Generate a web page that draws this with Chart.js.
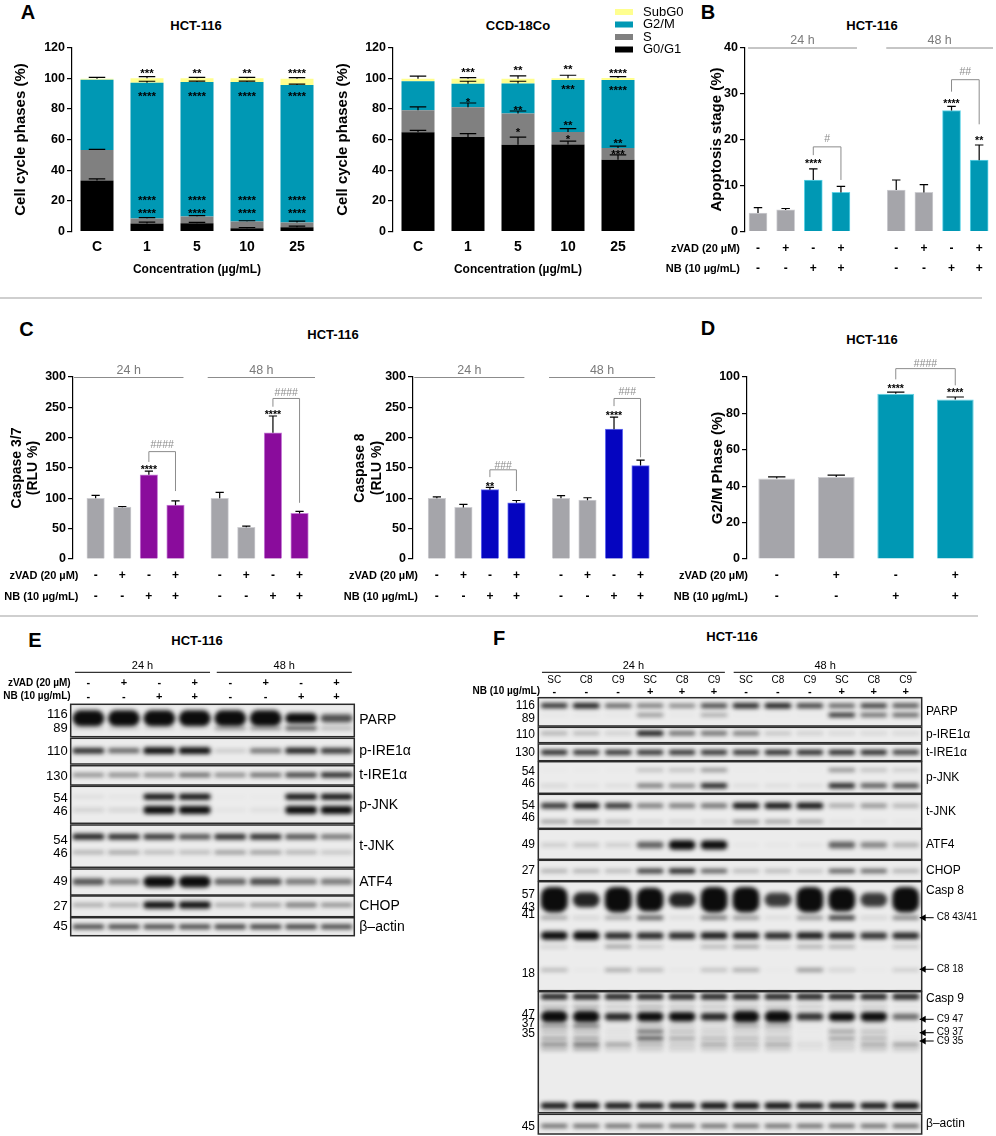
<!DOCTYPE html>
<html>
<head>
<meta charset="utf-8">
<title>HCT-116 cell cycle, apoptosis, caspase activity and western blots</title>
<script src="https://cdn.jsdelivr.net/npm/chart.js@4.4.1/dist/chart.umd.min.js"></script>
<style>
html,body{margin:0;padding:0;background:#fff;}
#fig{position:relative;width:996px;height:1136px;overflow:hidden;background:#fff;}
</style>
</head>
<body>
<div id="fig"></div>
<script>
// ---------- A: cell cycle phases (stacked %) ----------
let concLabels = ["C", "1", "5", "10", "25"];
let phaseNames = ["G0/G1", "S", "G2/M", "SubG0"];

let hctG0G1 = [33.2, 5.2, 5.3, 2.2, 2.8];
let hctS = [19.9, 3.3, 4.5, 4.4, 3.1];
let hctG2M = [45.8, 88.5, 87.7, 90.9, 89.6];
let hctSubG0 = [0.8, 2.9, 2.4, 2.4, 4.2];
let hctG0G1Err = [1.1, 0.9, 0.7, 0.4, 0.7];
let hctSErr = [0.4, 0.5, 0.5, 0.4, 0.9];
let hctG2MErr = [0, 1.0, 0.6, 0.6, 0.6];
let hctSubG0Err = [0.8, 1.1, 0.6, 0.6, 0.6];

let ccdG0G1 = [64.7, 61.6, 56.6, 56.8, 46.8];
let ccdS = [14.3, 19.4, 20.3, 8.1, 7.6];
let ccdG2M = [19.0, 15.3, 19.6, 33.9, 44.4];
let ccdSubG0 = [1.7, 3.4, 3.2, 1.1, 1.3];
let ccdG0G1Err = [1.3, 2.2, 5.0, 2.2, 3.2];
let ccdSErr = [2.3, 2.8, 1.7, 2.2, 1.3];
let ccdG2MErr = [0, 1.7, 1.5, 0, 0];
let ccdSubG0Err = [1.6, 0.7, 1.8, 2.0, 0.9];

// [bar, value, text]
let hctStars = [[1,105,"***"],[2,105,"**"],[3,105,"**"],[4,105,"****"],
  [1,90,"****"],[2,90,"****"],[3,90,"****"],[4,90,"****"],
  [1,22.3,"****"],[2,22.3,"****"],[3,22.3,"****"],[4,22.3,"****"],
  [1,14,"****"],[2,14,"****"],[3,14,"****"],[4,14,"****"]];
let ccdStars = [[1,106,"***"],[1,86.5,"*"],[2,107,"**"],[2,81,"**"],[2,66.5,"*"],
  [3,107.5,"**"],[3,95,"***"],[3,71.5,"**"],[3,62,"*"],
  [4,105,"****"],[4,94,"****"],[4,59.5,"**"],[4,52.5,"***"]];

// ---------- B, C: treatments ----------
let zvadSigns = ["-","+","-","+","-","+","-","+"];
let nbSigns = ["-","-","+","+","-","-","+","+"];
let hourGroups = [["24 h",0,3],["48 h",4,7]];

let apoptosis = [4.0, 4.7, 11.2, 8.5, 9.0, 8.5, 26.3, 15.5];
let apoptosisErr = [1.2, 0.3, 2.4, 1.3, 2.2, 1.7, 0.9, 3.3];
let apoStars = [[2,15.3,"****"],[6,28.4,"****"],[7,20.4,"**"]];
// [left bar, right bar, top, left end, right end, label, label value]
let apoBrackets = [[2,3,18.4,16.6,11.2,"#",20.3],[6,7,33.0,30.4,23.3,"##",34.8]];

let casp37 = [100, 85.5, 138.8, 88.7, 100, 52.3, 208, 75.1];
let casp37Err = [5, 1, 6, 7, 9.8, 2, 27.7, 3.3];
let casp37Stars = [[2,151,"****"],[6,242,"****"]];
let casp37Brackets = [[2,3,177,160,112,"####",189],[6,7,264.6,251,92.6,"####",275]];

let casp8 = [100, 85, 114.3, 92.6, 100, 97, 214, 154];
let casp8Err = [2.5, 5, 3.7, 3.8, 4.5, 4, 20, 9];
let casp8Stars = [[2,124,"**"],[6,241,"****"]];
let casp8Brackets = [[2,3,147,135,112,"###",155],[6,7,264.6,252,167.7,"###",276.6]];

// ---------- D: G2/M phase ----------
let g2mZvad = ["-","+","-","+"];
let g2mNb = ["-","-","+","+"];
let g2mPhase = [44.2, 45.1, 90.8, 87.7];
let g2mErr = [0.9, 1.0, 0.9, 1.3];
let g2mStars = [[2,95,"****"],[3,92.7,"****"]];
let g2mBrackets = [[2,3,104.6,98.7,95.4,"####",107.3]];

// ---------- E: blot (band rows: [position, size, strength per lane]) ----------
let eZvad = ["-","+","-","+","-","+","-","+"];
let eNb = ["-","-","+","+","-","-","+","+"];
let eStrips = [["PARP",0,32.4],["p-IRE1α",34,59.7],["t-IRE1α",61.4,80.7],["p-JNK",82,119],
  ["t-JNK",120.7,163],["ATF4",164.7,190.7],["CHOP",191.7,212.4],["β–actin",213.4,231.4]];
let eMarkers = [["116",10],["89",24],["110",46.7],["130",71.7],["54",94],["46",107.4],
  ["54",135.7],["46",149],["49",177.4],["27",202.4],["45",222.4]];
let eBands = [
  [14, 10, [2,2,2,2,2,2,1.1,0.7]],
  [24, 4, [0.15,0.2,0.15,0.1,0.45,0.5,0.8,0.35]],
  [46.4, 6, [0.9,0.65,1.2,1.2,0.2,0.6,0.95,0.85]],
  [70.7, 5, [0.5,0.55,0.55,0.65,0.55,0.65,0.85,0.95]],
  [92.4, 6, [0.08,0.05,1,1,0.02,0.02,1,1]],
  [105.7, 7, [0.15,0.12,1.2,1.2,0.05,0.08,1.2,1.2]],
  [132.4, 6, [0.95,0.9,0.85,0.75,0.9,0.9,0.75,0.6]],
  [148, 5, [0.35,0.4,0.3,0.3,0.45,0.45,0.35,0.25]],
  [177.4, 8, [0.7,0.5,1.6,1.7,0.65,0.75,0.55,0.55]],
  [200.7, 6, [0.35,0.35,1.3,1.3,0.35,0.4,0.55,0.45]],
  [222.4, 5, [0.8,0.8,0.8,0.8,0.85,0.85,0.85,0.8]]
];

// ---------- F: blot ----------
let fLanes = ["SC","C8","C9","SC","C8","C9","SC","C8","C9","SC","C8","C9"];
let fNb = ["-","-","-","+","+","+","-","-","-","+","+","+"];
let fGroups = [["24 h",0,5],["48 h",6,11]];
let fStrips = [["PARP",0,28.3],["p-IRE1α",29.6,45],["t-IRE1α",46.3,63],["p-JNK",64,95.6],
  ["t-JNK",96.6,130.6],["ATF4",131.6,161.6],["CHOP",162.6,183],["Casp 8",184,293,8.5],
  ["Casp 9",294,415,6.5],["β–actin",416.6,436.3]];
let fMarkers = [["116",8.3],["89",20.6],["110",37.3],["130",54.6],["54",74],["46",85.6],
  ["54",108],["46",119.6],["49",147.3],["27",173.3],["57",196.6],["43",209.6],["41",217.3],
  ["18",276.3],["47",317.3],["37",325.6],["35",335.6],["45",429]];
let fArrows = [["C8 43/41",220],["C8 18",271.6],["C9 47",321.6],["C9 37",335],["C9 35",343.3]];
let fBands = [
  [8, 5, [0.9,1.0,0.7,0.6,0.55,0.8,0.95,1.0,0.85,0.7,0.85,0.75]],
  [17.3, 4, [0.05,0.05,0.05,0.5,0.05,0.45,0.02,0.02,0.02,0.95,0.7,0.75]],
  [35.6, 5, [0.35,0.3,0.2,1.0,0.65,0.65,0.6,0.25,0.2,0.15,0.15,0.15]],
  [54.6, 5, [0.95,0.9,0.9,0.9,0.9,0.9,0.9,0.95,0.95,0.95,0.95,0.85]],
  [72.3, 4, [0.03,0.03,0.03,0.3,0.3,0.5,0.02,0.02,0.02,0.55,0.3,0.25]],
  [88, 5, [0.15,0.08,0.1,0.6,0.55,0.95,0.1,0.1,0.1,0.95,0.75,0.8]],
  [108, 6, [0.85,1.0,0.85,0.55,0.55,0.6,1.0,1.0,1.0,0.35,0.45,0.3]],
  [124, 4, [0.45,0.55,0.35,0.2,0.2,0.2,0.55,0.45,0.45,0.1,0.1,0.05]],
  [147.3, 8, [0.15,0.2,0.15,0.65,1.3,1.2,0.03,0.03,0.05,0.65,0.5,0.3]],
  [173.3, 5, [0.35,0.35,0.3,0.85,0.95,0.7,0.3,0.3,0.25,0.7,0.65,0.35]],
  [202, 16, [2,0.9,2,1.8,0.9,2,2,0.8,2,1.8,0.8,2]],
  [220, 5, [0.4,0.15,0.4,0.7,0.1,0.6,0.45,0.1,0.45,0.85,0.15,0.55]],
  [238, 7, [1.3,1.4,0.9,0.9,0.9,0.95,0.95,0.9,0.95,0.9,0.85,0.9]],
  [249, 4, [0.2,0.1,0.45,0.25,0.05,0.35,0.45,0.15,0.4,0.35,0.05,0.25]],
  [272.3, 4, [0.35,0.05,0.45,0.35,0.05,0.3,0.45,0.03,0.5,0.2,0.03,0.25]],
  [299, 6, [0.95,0.95,0.95,0.95,0.95,0.95,0.95,0.95,0.95,0.95,0.95,0.95]],
  [309, 3, [0.4,0.5,0.3,0.45,0.35,0.35,0.35,0.35,0.3,0.2,0.3,0.1]],
  [319, 8, [1.8,1.8,0.9,1.3,1.3,0.9,1.8,1.8,0.85,1.2,1.3,0.6]],
  [328.3, 3, [0.6,0.8,0.1,0.35,0.3,0.2,0.55,0.5,0.05,0.15,0.15,0.03]],
  [334, 3, [0.4,0.4,0.15,0.85,0.4,0.3,0.3,0.3,0.05,0.6,0.4,0.05]],
  [340.6, 3, [0.55,0.6,0.15,0.95,0.55,0.45,0.45,0.4,0.05,0.6,0.5,0.1]],
  [346.6, 3, [0.7,0.85,0.6,0.5,0.35,0.55,0.5,0.55,0.2,0.35,0.55,0.6]],
  [351.6, 3, [0.4,0.5,0.25,0.3,0.25,0.3,0.3,0.3,0.1,0.25,0.35,0.3]],
  [408, 6, [1,1.2,1,1,1,1.1,1.1,1.1,1,1,1,1.1]],
  [428.3, 4, [0.7,0.7,0.7,0.7,0.7,0.7,0.7,0.7,0.7,0.7,0.7,0.7]]
];

// ---------- styles ----------
let FONT = "'Liberation Sans', Arial, sans-serif";
let phaseColors = ["#000000", "#808080", "#0098b4", "#ffff8f"];
let grayBar = "#a5a5aa", grayEdge = "#cdcdd1";
let tealBar = "#0098b4", tealEdge = "#5fd3e6";
let purpleBar = "#8a0c9c", purpleEdge = "#c77fd6";
let blueBar = "#0505c0", blueEdge = "#6a72f2";

function hasFont(name) {
  let c = document.createElement("canvas").getContext("2d");
  c.font = "40px monospace";
  let a = c.measureText("zVAD (20 µM) NB").width;
  c.font = "40px '" + name + "', monospace";
  return c.measureText("zVAD (20 µM) NB").width !== a;
}
let rowFont = hasFont("Liberation Sans Narrow") ? "bold 13px 'Liberation Sans Narrow'" : "bold 11px " + FONT;

Chart.defaults.font.family = FONT;
Chart.defaults.color = "#000";
Chart.defaults.animation = false;
Chart.defaults.responsive = false;
Chart.defaults.events = [];
Chart.defaults.plugins.legend.display = false;
Chart.defaults.plugins.tooltip.enabled = false;

let fig = document.getElementById("fig");

function makeCanvas(left, top, w, h) {
  let c = document.createElement("canvas");
  c.width = w; c.height = h;
  c.style.cssText = "position:absolute;left:" + left + "px;top:" + top + "px;width:" + w + "px;height:" + h + "px";
  fig.appendChild(c);
  return c;
}

function addText(text, x, y, css) {
  let d = document.createElement("div");
  d.textContent = text;
  d.style.cssText = "position:absolute;left:" + x + "px;top:" + y + "px;transform:translate(-50%,-50%);white-space:nowrap;line-height:1;font-family:" + FONT + ";" + css;
  fig.appendChild(d);
}

function addRule(y, w) {
  let d = document.createElement("div");
  d.style.cssText = "position:absolute;left:0;top:" + y + "px;width:" + w + "px;height:2px;background:#cfcfcf";
  fig.appendChild(d);
}

function mark(ctx, text, x, y, color, size) {
  let hash = text[0] === "#";
  ctx.fillStyle = color;
  ctx.font = (hash ? "" : "bold ") + size + "px " + FONT;
  ctx.textAlign = "center";
  ctx.textBaseline = "alphabetic";
  ctx.fillText(text, x, y + (hash ? 0.36 : 0.58) * size);
}

// error bars, stars, brackets, time headers, treatment rows, legend
let extras = {
  id: "extras",
  afterDatasetsDraw(chart, args, o) {
    let ctx = chart.ctx, a = chart.chartArea, y = chart.scales.y;
    let unit = y.getPixelForValue(0) - y.getPixelForValue(1);
    let pts = chart.getDatasetMeta(0).data;
    ctx.save();
    ctx.strokeStyle = "#000";
    ctx.lineWidth = 1.2;
    chart.data.datasets.forEach((ds, di) => {
      chart.getDatasetMeta(di).data.forEach((el, i) => {
        let e = ds.errors ? ds.errors[i] : 0;
        if (!e) return;
        let top = el.y - e * unit, c = el.width * o.cap / 2;
        ctx.beginPath();
        ctx.moveTo(el.x, el.y); ctx.lineTo(el.x, top);
        ctx.moveTo(el.x - c, top); ctx.lineTo(el.x + c, top);
        ctx.stroke();
      });
    });
    (o.stars || []).forEach(s => mark(ctx, s[2], pts[s[0]].x, y.getPixelForValue(s[1]), "#000", o.starSize || 11));
    ctx.strokeStyle = "#8c8c8c";
    ctx.lineWidth = 1;
    (o.brackets || []).forEach(b => {
      let x1 = pts[b[0]].x, x2 = pts[b[1]].x, yt = y.getPixelForValue(b[2]);
      ctx.beginPath();
      ctx.moveTo(x1, y.getPixelForValue(b[3])); ctx.lineTo(x1, yt);
      ctx.lineTo(x2, yt); ctx.lineTo(x2, y.getPixelForValue(b[4]));
      ctx.stroke();
      mark(ctx, b[5], (x1 + x2) / 2, y.getPixelForValue(b[6]), "#8c8c8c", 10.5);
    });
    (o.periods || []).forEach((p, k) => {
      let sp = pts[1].x - pts[0].x, ext = o.periodExt[k];
      let x1 = pts[p[1]].x - ext[0] * sp, x2 = pts[p[2]].x + ext[1] * sp;
      ctx.strokeStyle = "#8c8c8c";
      ctx.beginPath(); ctx.moveTo(x1, a.top + 0.5); ctx.lineTo(x2, a.top + 0.5); ctx.stroke();
      ctx.fillStyle = "#7a7a7a";
      ctx.font = "12.5px " + FONT;
      ctx.textAlign = "center"; ctx.textBaseline = "middle";
      ctx.fillText(p[0], (x1 + x2) / 2, a.top - 6.8);
    });
    (o.rows || []).forEach((r, k) => {
      let yy = a.bottom + o.rowDy[k];
      ctx.fillStyle = "#000";
      ctx.textBaseline = "middle";
      ctx.font = rowFont; ctx.textAlign = "right";
      ctx.fillText(r[0], a.left + o.rowDx, yy);
      ctx.font = "bold 12px " + FONT; ctx.textAlign = "center";
      r[1].forEach((s, i) => ctx.fillText(s, pts[i].x, yy));
    });
    if (o.legend) {
      chart.data.datasets.slice().reverse().forEach((ds, k) => {
        let yy = o.legend.y + k * o.legend.dy;
        ctx.fillStyle = ds.backgroundColor;
        ctx.fillRect(o.legend.x, yy - 3, 18, 6);
        ctx.fillStyle = "#000";
        ctx.font = "13px " + FONT;
        ctx.textAlign = "left"; ctx.textBaseline = "middle";
        ctx.fillText(ds.label, o.legend.x + 28, yy);
      });
    }
    ctx.restore();
  }
};

function yAxis(max, step, title, size, titleX, width) {
  return {
    min: 0, max: max,
    ticks: {stepSize: step, color: "#000", font: {size: 12.5, weight: "bold"}, padding: 2},
    grid: {display: true, drawOnChartArea: false, drawTicks: true, tickLength: 5, color: "#000", lineWidth: 1.2},
    border: {display: true, color: "#000", width: 1.2},
    title: {display: true, text: title, color: "#000", font: {size: size, weight: "bold", lineHeight: 1.15},
      padding: {top: titleX - size * 1.15 / 2, bottom: 0}},
    afterFit: s => { s.width = width; }
  };
}

function cycleChart(left, w, plot, phases, errs, stars, titleX, legend) {
  let h = 290;
  let cv = makeCanvas(left, 0, w, h);
  let padB = h - plot[3];
  let ds = phaseNames.map((n, k) => ({label: n, data: phases[k], errors: errs[k], backgroundColor: phaseColors[k],
    borderWidth: 0, barPercentage: 0.66, categoryPercentage: 1}));
  let y = yAxis(120, 20, "Cell cycle phases (%)", 15, titleX - left, plot[0] - left);
  y.stacked = true;
  return new Chart(cv, {
    type: "bar",
    data: {labels: concLabels, datasets: ds},
    options: {
      layout: {padding: {left: 0, top: plot[1], right: left + w - plot[2], bottom: 0}},
      scales: {
        x: {stacked: true, offset: true, grid: {display: false, drawTicks: false}, border: {display: false},
          ticks: {color: "#000", font: {size: 14, weight: "bold"}, padding: 7, maxRotation: 0},
          title: {display: true, text: "Concentration (µg/mL)", color: "#000", font: {size: 12, weight: "bold"}, padding: {top: 0, bottom: 12.8}},
          afterFit: s => { s.height = padB; }},
        y: y
      },
      plugins: {extras: {cap: 0.5, stars: stars, starSize: 11.5, legend: legend}}
    },
    plugins: [extras]
  });
}

function barPanel(p) {
  let cv = makeCanvas(p.left, p.top, p.w, p.h);
  let linear = !!p.xpos;
  let ds = {
    data: linear ? p.values.map((v, i) => ({x: p.xpos[i], y: v})) : p.values,
    errors: p.errors,
    backgroundColor: p.colors, borderColor: p.edges, borderWidth: 1,
    barPercentage: p.barPct || 0.9, categoryPercentage: 1
  };
  if (p.barW) ds.barThickness = p.barW;
  return new Chart(cv, {
    type: "bar",
    data: {labels: p.values.map((v, i) => "group " + (i + 1)), datasets: [ds]},
    options: {
      layout: {padding: {left: 0, top: p.plot[1] - p.top, right: p.left + p.w - p.plot[2], bottom: p.top + p.h - p.plot[3]}},
      scales: {
        x: linear ? {type: "linear", display: false, min: p.xmin, max: p.xmax, offset: false} : {display: false, offset: true},
        y: yAxis(p.yMax, p.yStep, p.yTitle, p.yTitleSize, p.yTitleX - p.left, p.plot[0] - p.left)
      },
      plugins: {extras: {cap: 0.47, stars: p.stars, starSize: 10.5, brackets: p.brackets, periods: p.periods,
        periodExt: p.periodExt, rows: p.rows, rowDy: [17, 37.5], rowDx: p.rowDx}}
    },
    plugins: [extras]
  });
}

// ---- western blot: strips, bands (blurred floating bars), labels ----
let blotDeco = {
  id: "blotDeco",
  beforeDatasetsDraw(chart, args, o) {
    let ctx = chart.ctx, a = chart.chartArea, y = chart.scales.y;
    ctx.save();
    ctx.fillStyle = "#ececec";
    ctx.beginPath();
    o.strips.forEach(s => {
      let t = y.getPixelForValue(s[1]), b = y.getPixelForValue(s[2]);
      ctx.rect(a.left, t, a.right - a.left, b - t);
    });
    ctx.fill();
    ctx.clip();
    ctx.filter = "blur(1.9px)";
  },
  afterDatasetsDraw(chart, args, o) {
    let ctx = chart.ctx, a = chart.chartArea, x = chart.scales.x, y = chart.scales.y;
    ctx.restore();
    ctx.save();
    let lw = x.getPixelForValue(1) - x.getPixelForValue(0);
    ctx.strokeStyle = "#2b2b2b";
    ctx.lineWidth = 1.5;
    ctx.fillStyle = "#000";
    ctx.textBaseline = "middle";
    o.strips.forEach(s => {
      let t = y.getPixelForValue(s[1]), b = y.getPixelForValue(s[2]);
      ctx.strokeRect(a.left, t, a.right - a.left, b - t);
      ctx.font = o.nameFont + "px " + FONT;
      ctx.textAlign = "left";
      let ly = s[3] !== undefined ? y.getPixelForValue(s[1] + s[3]) : (t + b) / 2;
      ctx.fillText(s[0], a.right + o.nameDx, ly);
    });
    ctx.font = o.mwFont + "px " + FONT;
    ctx.textAlign = "right";
    o.markers.forEach(m => ctx.fillText(m[0], a.left - o.mwDx, y.getPixelForValue(m[1])));
    ctx.lineWidth = 1;
    ctx.strokeStyle = "#000";
    o.periods.forEach(p => {
      let x1 = x.getPixelForValue(p[1]) - o.periodExt[0] * lw, x2 = x.getPixelForValue(p[2]) + o.periodExt[1] * lw;
      ctx.beginPath(); ctx.moveTo(x1, a.top + o.lineDy); ctx.lineTo(x2, a.top + o.lineDy); ctx.stroke();
      ctx.font = "11px " + FONT; ctx.textAlign = "center";
      ctx.fillText(p[0], (x1 + x2) / 2, a.top + o.periodDy);
    });
    if (o.laneLabels) {
      ctx.font = "10px " + FONT; ctx.textAlign = "center";
      o.laneLabels.forEach((l, i) => ctx.fillText(l, x.getPixelForValue(i), a.top + o.laneDy));
    }
    o.rows.forEach((r, k) => {
      let yy = a.top + o.rowDy[k];
      ctx.font = "bold 10px " + FONT; ctx.textAlign = "right";
      ctx.fillText(r[0], a.left + o.rowDx, yy);
      ctx.font = "bold 11px " + FONT; ctx.textAlign = "center";
      r[1].forEach((s, i) => ctx.fillText(s, x.getPixelForValue(i), yy));
    });
    (o.arrows || []).forEach(r => {
      let yy = y.getPixelForValue(r[1]), tip = a.right - 2;
      ctx.beginPath(); ctx.moveTo(tip, yy); ctx.lineTo(tip + 14, yy); ctx.stroke();
      ctx.beginPath(); ctx.moveTo(tip, yy); ctx.lineTo(tip + 6, yy - 3.5); ctx.lineTo(tip + 6, yy + 3.5); ctx.closePath(); ctx.fill();
      ctx.font = "10px " + FONT; ctx.textAlign = "left";
      ctx.fillText(r[0], tip + 17, yy);
    });
    ctx.restore();
  }
};

function bandSize(base, s) { return base * (0.4 + 0.6 * Math.min(s, 2)); }

function blotChart(left, top, w, h, box, lanes, strips, bands, bandPct, deco) {
  let cv = makeCanvas(left, top, w, h);
  let H = strips[strips.length - 1][2];
  let ds = bands.map(b => ({
    data: b[2].map(s => { let t = bandSize(b[1], s); return [b[0] - t / 2, b[0] + t / 2]; }),
    backgroundColor: b[2].map(s => "rgba(12,12,12," + Math.min(1, s).toFixed(2) + ")"),
    borderWidth: 0, borderSkipped: false,
    borderRadius: c => Math.min(9, bandSize(b[1], b[2][c.dataIndex]) / 2),
    barPercentage: bandPct, categoryPercentage: 1, grouped: false
  }));
  deco.strips = strips;
  return new Chart(cv, {
    type: "bar",
    data: {labels: lanes.map((l, i) => "lane " + (i + 1)), datasets: ds},
    options: {
      layout: {padding: {left: box[0] - left, top: box[1] - top, right: left + w - box[2], bottom: top + h - box[3]}},
      scales: {
        x: {display: false, offset: true},
        y: {display: false, min: 0, max: H, reverse: true}
      },
      plugins: {blotDeco: deco}
    },
    plugins: [blotDeco]
  });
}

// ---------- layout ----------
addText("A", 28, 12, "font-weight:bold;font-size:20px");
addText("HCT-116", 196, 25, "font-weight:bold;font-size:13px");
addText("CCD-18Co", 518, 25, "font-weight:bold;font-size:13px");
addText("B", 708, 12, "font-weight:bold;font-size:20px");
addText("HCT-116", 872, 25, "font-weight:bold;font-size:13px");
addRule(297, 982);
addText("C", 26.5, 329, "font-weight:bold;font-size:20px");
addText("HCT-116", 333, 334, "font-weight:bold;font-size:13px");
addText("D", 708, 328, "font-weight:bold;font-size:20px");
addText("HCT-116", 872, 339, "font-weight:bold;font-size:13px");
addRule(615, 978);
addText("E", 35, 640, "font-weight:bold;font-size:20px");
addText("HCT-116", 197, 640, "font-weight:bold;font-size:13px");
addText("F", 499, 637.5, "font-weight:bold;font-size:20px");
addText("HCT-116", 732, 636, "font-weight:bold;font-size:13px");

cycleChart(0, 335, [72, 47.5, 322, 231.5],
  [hctG0G1, hctS, hctG2M, hctSubG0], [hctG0G1Err, hctSErr, hctG2MErr, hctSubG0Err], hctStars, 21, null);
cycleChart(325, 375, [393, 47.5, 643, 231.5],
  [ccdG0G1, ccdS, ccdG2M, ccdSubG0], [ccdG0G1Err, ccdSErr, ccdG2MErr, ccdSubG0Err], ccdStars, 343,
  {x: 615 - 325, y: 12, dy: 12.5});

barPanel({left: 655, top: 0, w: 341, h: 290, plot: [745, 47.5, 993, 231.5],
  values: apoptosis, errors: apoptosisErr,
  colors: nbSigns.map(s => s === "+" ? tealBar : grayBar), edges: nbSigns.map(s => s === "+" ? tealEdge : grayEdge),
  xpos: apoptosis.map((v, i) => i + (i >= 4 ? 1 : 0)), xmin: -0.47, xmax: 8.5, barW: 18,
  yMax: 40, yStep: 10, yTitle: "Apoptosis stage (%)", yTitleSize: 15, yTitleX: 717,
  stars: apoStars, brackets: apoBrackets, periods: hourGroups, periodExt: [[0.36, 0.58], [0.36, 0.5]],
  rows: [["zVAD (20 µM)", zvadSigns], ["NB (10 µg/mL)", nbSigns]], rowDx: -5});

barPanel({left: 0, top: 300, w: 330, h: 310, plot: [73, 377, 315, 559],
  values: casp37, errors: casp37Err,
  colors: nbSigns.map(s => s === "+" ? purpleBar : grayBar), edges: nbSigns.map(s => s === "+" ? purpleEdge : grayEdge),
  xpos: casp37.map((v, i) => i + (i >= 4 ? 0.66 : 0)), xmin: -0.85, xmax: 8.24, barW: 17.5,
  yMax: 300, yStep: 50, yTitle: ["Caspase 3/7", "(RLU %)"], yTitleSize: 14, yTitleX: 17,
  stars: casp37Stars, brackets: casp37Brackets, periods: hourGroups, periodExt: [[0.81, 0.3], [0.45, 0.58]],
  rows: [["zVAD (20 µM)", zvadSigns], ["NB (10 µg/mL)", nbSigns]], rowDx: 5.5});

barPanel({left: 340, top: 300, w: 330, h: 310, plot: [413, 377, 653, 559],
  values: casp8, errors: casp8Err,
  colors: nbSigns.map(s => s === "+" ? blueBar : grayBar), edges: nbSigns.map(s => s === "+" ? blueEdge : grayEdge),
  xpos: casp8.map((v, i) => i + (i >= 4 ? 0.68 : 0)), xmin: -0.9, xmax: 8.15, barW: 17.5,
  yMax: 300, yStep: 50, yTitle: ["Caspase 8", "(RLU %)"], yTitleSize: 14, yTitleX: 360.6,
  stars: casp8Stars, brackets: casp8Brackets, periods: hourGroups, periodExt: [[0.85, 0.3], [0.45, 0.55]],
  rows: [["zVAD (20 µM)", zvadSigns], ["NB (10 µg/mL)", nbSigns]], rowDx: 5});

barPanel({left: 660, top: 300, w: 336, h: 310, plot: [747, 377, 985, 559],
  values: g2mPhase, errors: g2mErr,
  colors: g2mNb.map(s => s === "+" ? tealBar : grayBar), edges: g2mNb.map(s => s === "+" ? tealEdge : grayEdge),
  barPct: 0.62,
  yMax: 100, yStep: 20, yTitle: "G2/M Phase (%)", yTitleSize: 15, yTitleX: 718,
  stars: g2mStars, brackets: g2mBrackets,
  rows: [["zVAD (20 µM)", g2mZvad], ["NB (10 µg/mL)", g2mNb]], rowDx: 1});

blotChart(0, 625, 470, 315, [70.7, 704.3, 354.3, 935.7], eZvad, eStrips, eBands, 0.9, {
  markers: eMarkers, mwFont: 13, mwDx: 3, nameFont: 14, nameDx: 5,
  periods: hourGroups, periodExt: [0.38, 0.43], periodDy: -38.3, lineDy: -32,
  rows: [["zVAD (20 µM)", eZvad], ["NB (10 µg/mL)", eNb]], rowDy: [-21, -7.6], rowDx: 0});

blotChart(470, 625, 526, 511, [538.3, 697.7, 921.7, 1134], fLanes, fStrips, fBands, 0.84, {
  markers: fMarkers, mwFont: 12, mwDx: 3.3, nameFont: 12, nameDx: 4.3,
  periods: fGroups, periodExt: [0.385, 0.34], periodDy: -32, lineDy: -25.4,
  laneLabels: fLanes, laneDy: -17.7,
  rows: [["NB (10 µg/mL)", fNb]], rowDy: [-6], rowDx: 1.7, arrows: fArrows});
</script>
</body>
</html>
